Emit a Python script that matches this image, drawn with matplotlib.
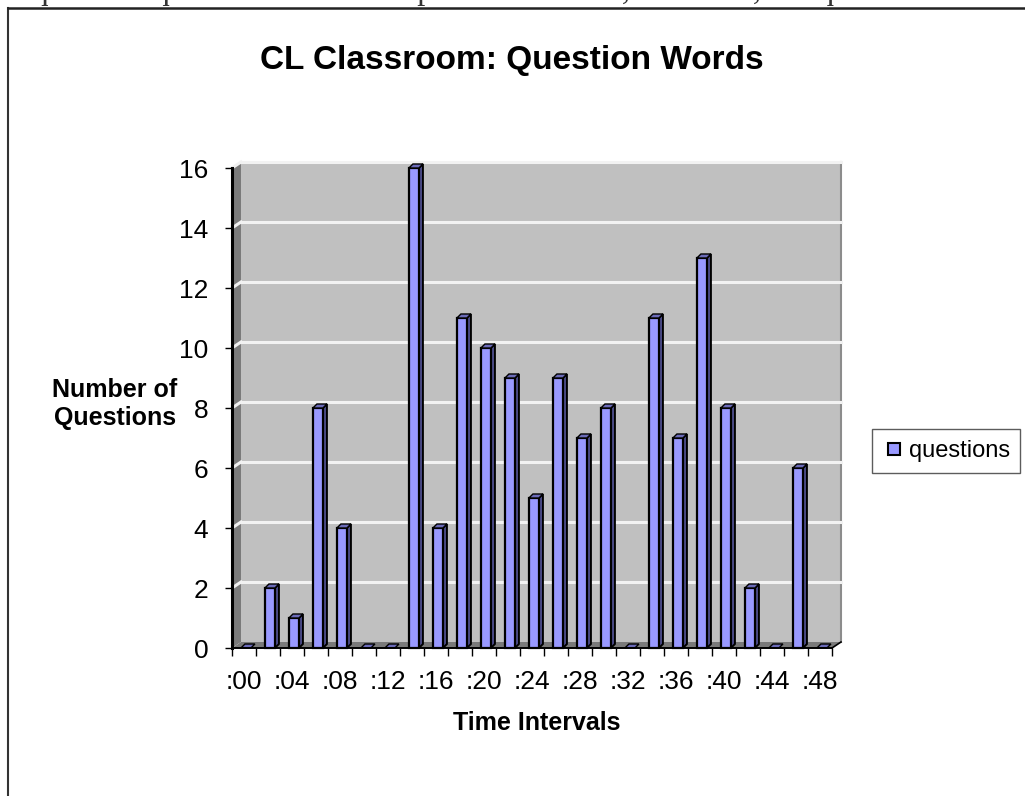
import numpy as np
import matplotlib
matplotlib.use("Agg")
import matplotlib.pyplot as plt
from matplotlib.patches import Polygon
from matplotlib.lines import Line2D

# data
intervals = [":%02d" % m for m in range(0, 50, 2)]
questions = [0, 2, 1, 8, 4, 0, 0, 16, 4, 11, 10, 9, 5, 9, 7, 8, 0, 11, 7, 13, 8, 2, 0, 6, 0]
yticks = [0, 2, 4, 6, 8, 10, 12, 14, 16]
series_name = "questions"
title = "CL Classroom: Question Words"
doc_text = "equal 100 question statements per hour and 50,000 to 80,000 question statements per"

plt.rcParams['font.family'] = ['Liberation Sans', 'DejaVu Sans']

W, H = 1025, 796
fig = plt.figure(figsize=(W / 100, H / 100), dpi=100)

# plot area in pixels (front edge of the floor / front axis)
x0, x1, y0, y1 = 232, 832, 648, 168
ax = fig.add_axes([x0 / W, 1 - y0 / H, (x1 - x0) / W, (y0 - y1) / H])
n = len(questions)
ax.set_xlim(-0.5, n - 0.5)
ax.set_ylim(0, 16)
ax.patch.set_alpha(0)

# pixels -> data units
px_x = n / (x1 - x0)
px_y = 16 / (y0 - y1)

# 3d depth of the walls
dxw, dyw = 9 * px_x, 6 * px_y
xl, xr = -0.5, n - 0.5

# back wall
ax.add_patch(Polygon([(xl + dxw, dyw), (xr + dxw, dyw), (xr + dxw, 16 + dyw), (xl + dxw, 16 + dyw)],
                     closed=True, facecolor="#c0c0c0", edgecolor="none", clip_on=False, zorder=0))
ax.plot([xr + dxw, xr + dxw], [dyw, 16 + dyw], color="#8c8c8c", lw=1.5, clip_on=False, zorder=1)
# side wall
ax.add_patch(Polygon([(xl, 0), (xl, 16), (xl + dxw, 16 + dyw), (xl + dxw, dyw)],
                     closed=True, facecolor="#7a7a7a", edgecolor="none", clip_on=False, zorder=0))
# floor
ax.add_patch(Polygon([(xl, 0), (xr, 0), (xr + dxw, dyw), (xl + dxw, dyw)],
                     closed=True, facecolor="#7a7a7a", edgecolor="none", clip_on=False, zorder=1))
ax.plot([xr, xr + dxw], [0, dyw], color="black", lw=1.2, clip_on=False, zorder=2)

# gridlines
for v in yticks[1:]:
    ax.plot([xl + dxw, xr + dxw], [v + dyw, v + dyw], color="#f2f2f2", lw=2.2, clip_on=False, zorder=1)
    ax.plot([xl, xl + dxw], [v, v + dyw], color="#f2f2f2", lw=2.2, clip_on=False, zorder=1)

# bars: front, side and top faces
bw = 10 * px_x
dxb, dyb = 4 * px_x, 4 * px_y
front_c, side_c, top_c = "#9999ff", "#4d4d8c", "#6b6bb8"
for i, v in enumerate(questions):
    a = i + 0.08 - bw / 2
    b = a + bw
    if v > 0:
        ax.add_patch(Polygon([(b, 0), (b + dxb, dyb), (b + dxb, v + dyb), (b, v)], closed=True,
                             facecolor=side_c, edgecolor="black", lw=1.4, zorder=3, clip_on=False))
        ax.add_patch(Polygon([(a, 0), (b, 0), (b, v), (a, v)], closed=True,
                             facecolor=front_c, edgecolor="black", lw=1.6, zorder=4, clip_on=False))
    ax.add_patch(Polygon([(a, v), (b, v), (b + dxb, v + dyb), (a + dxb, v + dyb)], closed=True,
                         facecolor=top_c, edgecolor="black", lw=1.0, zorder=5, clip_on=False))

# axes
for s in ["top", "right"]:
    ax.spines[s].set_visible(False)
ax.spines["left"].set_linewidth(2.2)
ax.spines["bottom"].set_linewidth(1.4)
ax.spines["left"].set_zorder(6)
ax.spines["bottom"].set_zorder(6)

ax.set_yticks(yticks)
ax.set_yticklabels([str(t) for t in yticks])
ax.tick_params(axis="y", direction="out", length=5, width=1, pad=12, labelsize=19)

ax.set_xticks(range(0, n, 2))
ax.set_xticklabels(intervals[::2])
ax.set_xticks(np.arange(-0.5, n, 1), minor=True)
ax.tick_params(axis="x", which="major", length=0, pad=16, labelsize=19)
ax.tick_params(axis="x", which="minor", direction="out", length=6, width=1)

# text
fig.text(512 / W, 1 - 60 / H, title, ha="center", va="center", fontsize=24, fontweight="bold")
fig.text(115 / W, 1 - 404 / H, "Number of\nQuestions", ha="center", va="center",
         fontsize=18, fontweight="bold", linespacing=1.2)
fig.text(537 / W, 1 - 723 / H, "Time Intervals", ha="center", va="center", fontsize=18, fontweight="bold")

# legend
handle = Line2D([], [], marker="s", linestyle="none", markersize=9, markerfacecolor=front_c,
                markeredgecolor="black", markeredgewidth=1.5)
leg = fig.legend([handle], [series_name], loc="center left", bbox_to_anchor=(872 / W, 1 - 451 / H),
                 fontsize=17, frameon=True, fancybox=False, handlelength=1.0, handletextpad=0.1,
                 borderpad=0.45, borderaxespad=0)
leg.get_frame().set_edgecolor("#333333")
leg.get_frame().set_linewidth(1.0)

# document frame and the clipped text line above it
fig.add_artist(Line2D([8 / W, 8 / W], [0, 1 - 8 / H], color="#333333", lw=1.5))
fig.add_artist(Line2D([8 / W, 1], [1 - 8 / H, 1 - 8 / H], color="#222222", lw=1.8))
fig.text(18 / W, 1 + 1.5 / H, doc_text, family=["Liberation Serif"], fontsize=23.4, va="baseline",
         color="#333333")

fig.savefig("out.png", dpi=100)
